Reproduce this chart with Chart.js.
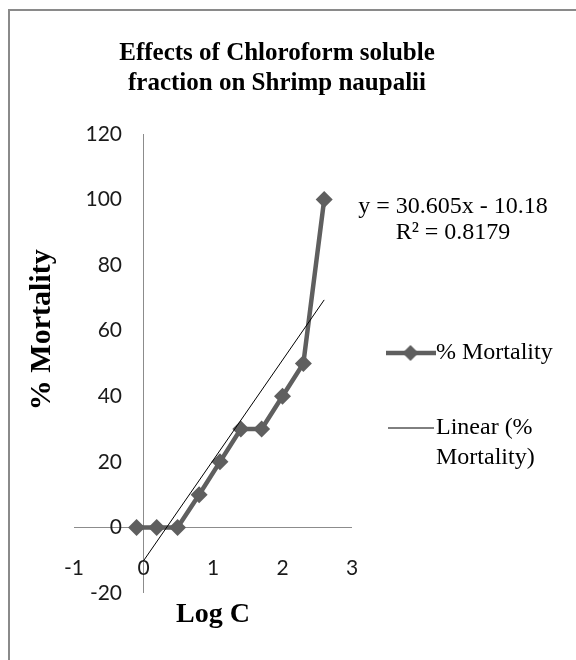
<!DOCTYPE html>
<html>
<head>
<meta charset="utf-8">
<script src="https://cdn.jsdelivr.net/npm/chart.js@4.4.1/dist/chart.umd.min.js"></script>
<style>
  html, body { margin: 0; padding: 0; background: #fff; }
  #wrap { position: relative; width: 576px; height: 660px; }
  /* cadre du graphique (seulement haut et gauche sont visibles) */
  #frame { position: absolute; left: 8px; top: 9px; right: 0; bottom: 0;
           border-left: 2px solid #8a8a8a; border-top: 2px solid #8a8a8a; }
  canvas { position: absolute; left: 0; top: 0; }
</style>
</head>
<body>
<div id="wrap"><div id="frame"></div><canvas id="chart"></canvas></div>
<script>
// valeurs
const logC      = [-0.1, 0.19, 0.49, 0.8, 1.1, 1.4, 1.7, 2.0, 2.3, 2.6];
const mortality = [0, 0, 0, 10, 20, 30, 30, 40, 50, 100];
const trendX    = [0, 2.6];
const trendY    = [-10.18, 69.4];
const xTicks    = [-1, 0, 1, 2, 3];
const yTicks    = [-20, 0, 20, 40, 60, 80, 100, 120];

const titleLines    = ['Effects of Chloroform soluble', 'fraction on Shrimp naupalii'];
const equationLines = ['y = 30.605x - 10.18', 'R\u00B2 = 0.8179'];
const legendLines   = [['% Mortality'], ['Linear (%', 'Mortality)']];

const serieColor = '#5f5f5f';
const axisGray   = '#8c8c8c';
const serif = '"Liberation Serif", "Times New Roman", serif';
const sans  = 'Lato, "Open Sans", sans-serif';

// ícone da legenda: linha (+ losango)
function legendIcon(w, h, color, lw, diamond) {
  const c = document.createElement('canvas');
  c.width = w; c.height = h;
  const g = c.getContext('2d');
  g.strokeStyle = color; g.lineWidth = lw;
  g.beginPath(); g.moveTo(0, h / 2); g.lineTo(w, h / 2); g.stroke();
  if (diamond) {
    const r = 8;
    g.fillStyle = color;
    g.beginPath();
    g.moveTo(w / 2, h / 2 - r); g.lineTo(w / 2 + r, h / 2);
    g.lineTo(w / 2, h / 2 + r); g.lineTo(w / 2 - r, h / 2);
    g.closePath(); g.fill();
  }
  return c;
}
const icons = [legendIcon(50, 18, serieColor, 4.5, true), legendIcon(46, 2, '#000', 1, false)];

// só a linha do zero aparece (eixos que se cruzam em 0)
const onlyZero = (c) => (c.tick && c.tick.value === 0) ? axisGray : 'rgba(0,0,0,0)';

new Chart(document.getElementById('chart'), {
  type: 'scatter',
  data: {
    datasets: [
      {
        label: '% Mortality',
        data: logC.map((x, i) => ({ x, y: mortality[i] })),
        showLine: true,
        borderColor: serieColor, backgroundColor: serieColor,
        borderWidth: 4.5,
        pointStyle: 'rectRot', pointRadius: 8.5, pointBorderWidth: 0,
        order: 1
      },
      {
        label: 'Linear (% Mortality)',
        data: trendX.map((x, i) => ({ x, y: trendY[i] })),
        showLine: true,
        borderColor: '#000', borderWidth: 1,
        pointRadius: 0,
        order: 0
      }
    ]
  },
  options: {
    responsive: true, maintainAspectRatio: false,
    animation: false,
    layout: { padding: { left: 0, right: 22, top: 0, bottom: 28 } },
    plugins: {
      tooltip: { enabled: false },
      title: {
        display: true,
        text: titleLines,
        color: '#000',
        font: { family: serif, size: 25, weight: 'bold', lineHeight: '30px' },
        padding: { top: 39, bottom: 35 }
      },
      legend: {
        position: 'right',
        align: 'start',
        fullSize: false,
        maxWidth: 202,
        title: {
          display: true,
          text: equationLines,
          position: 'center',
          color: '#000',
          font: { family: serif, size: 24, lineHeight: '26px' },
          padding: { top: 61, bottom: 75 }
        },
        labels: {
          usePointStyle: true,
          pointStyleWidth: 27,
          padding: 45,
          color: '#000',
          font: { family: serif, size: 24, lineHeight: '30px' },
          generateLabels: (chart) => chart.data.datasets.map((ds, i) => ({
            text: legendLines[i],
            pointStyle: icons[i],
            datasetIndex: i,
            hidden: false,
            lineWidth: 0,
            fillStyle: 'rgba(0,0,0,0)',
            strokeStyle: 'rgba(0,0,0,0)',
            fontColor: '#000'
          }))
        }
      }
    },
    scales: {
      x: {
        type: 'linear',
        min: -1, max: 3,
        afterBuildTicks: (s) => { s.ticks = xTicks.map(v => ({ value: v })); },
        afterFit: (s) => { s.height = 39; },
        ticks: {
          mirror: true,
          padding: 12.4,
          color: '#1a1a1a',
          font: { family: sans, size: 21 },
          callback: (v) => String(v)
        },
        grid: { color: onlyZero, lineWidth: 1, drawTicks: false },
        border: { display: false },
        title: {
          display: true,
          text: 'Log C',
          color: '#000',
          font: { family: serif, size: 28, weight: 'bold' },
          padding: { top: 17.6, bottom: 0 }
        }
      },
      y: {
        type: 'linear',
        min: -20, max: 120,
        afterBuildTicks: (s) => { s.ticks = yTicks.map(v => ({ value: v })); },
        afterFit: (s) => { s.width = 74; },
        ticks: {
          mirror: true,
          crossAlign: 'far',
          padding: 11.5,
          color: '#1a1a1a',
          font: { family: sans, size: 21 },
          callback: (v) => String(v)
        },
        grid: { color: onlyZero, lineWidth: 1, drawTicks: false },
        border: { display: false },
        title: {
          display: true,
          text: '         % Mortality',
          color: '#000',
          font: { family: serif, size: 30, weight: 'bold' },
          padding: { top: 24, bottom: 0 }
        }
      }
    }
  }
});
</script>
</body>
</html>
